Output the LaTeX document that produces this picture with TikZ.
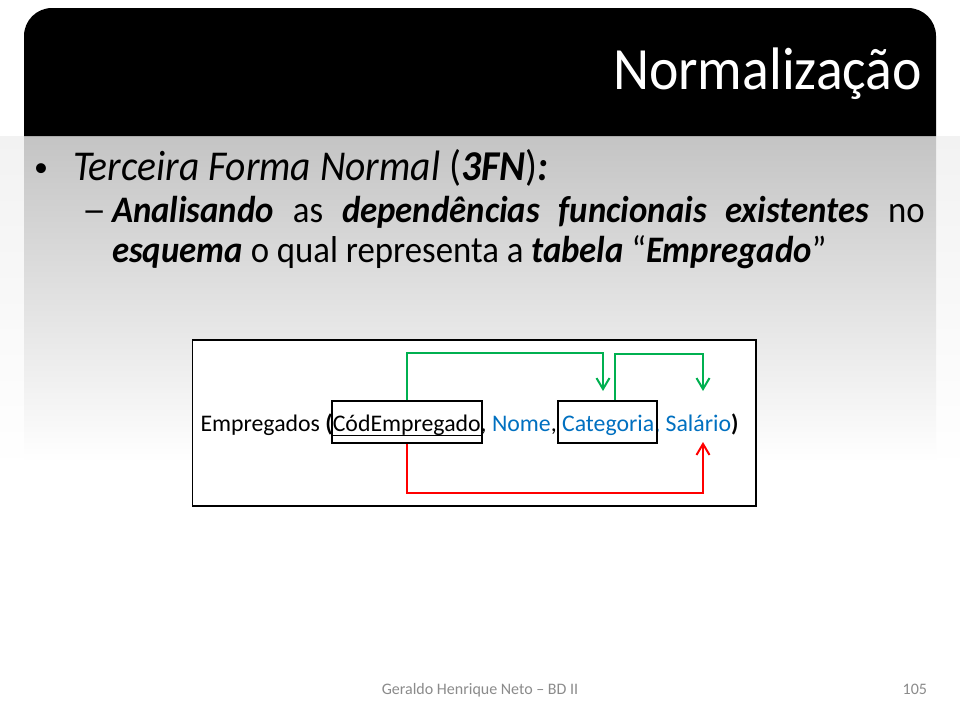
\documentclass[tikz,border=0pt]{standalone}
\usepackage{fontspec}
\usepackage{graphicx}
\setmainfont{Carlito}
\usetikzlibrary{arrows.meta,calc}

\definecolor{fieldblue}{HTML}{0070C0}
\definecolor{fdgreen}{HTML}{00B050}
\definecolor{fdred}{HTML}{FF0000}
\definecolor{bandtop}{HTML}{C4C4C4}
\definecolor{pagetop}{HTML}{F2F2F2}
\definecolor{footgray}{HTML}{8B8B8B}

\newcommand{\bi}[1]{\textbf{\textit{#1}}}
% slide text is set slightly condensed
\newcommand{\cond}[1]{\scalebox{0.93}[1]{#1}}

\tikzset{
  lbl/.style={inner sep=0pt, outer sep=0pt, anchor=base west},
  dtext/.style={lbl, font=\fontsize{23.8}{28}\selectfont},
  subtext/.style={lbl, font=\fontsize{37.4}{40}\selectfont},
  keybox/.style={draw=black, line width=2pt, inner sep=0pt, minimum height=42pt},
  fdarrow/.style={line width=2pt, -{Straight Barb[length=11pt,width=13pt,line width=2pt]}},
}

\begin{document}
\begin{tikzpicture}[x=1pt,y=-1pt]
  \useasboundingbox (0,0) rectangle (960,720);
  \fill[white] (0,0) rectangle (960,720);

  % background shading under the title bar
  \shade[top color=pagetop, bottom color=white] (0,136) rectangle (960,470);
  \shade[top color=bandtop, bottom color=white] (24,136) rectangle (936,462);

  % title bar with rounded upper corners
  \fill[black] (24,136) [rounded corners=28pt] -- (24,8) -- (936,8) [sharp corners] -- (936,136) -- cycle;
  \node[lbl, anchor=base east, text=white, font=\fontsize{60}{64}\selectfont] (title) at (922,89) {\cond{Normalização}};

  % bullet text
  \node[lbl, anchor=base, font=\fontsize{28}{32}\selectfont] (bullet) at (41,176) {•};
  \node[lbl, font=\fontsize{42.5}{48}\selectfont] (item) at (73,180)
    {\cond{\textit{Terceira Forma Normal }(\bi{3FN})\bi{:}}};
  \node[subtext] (dash) at (82,222) {\scalebox{1.3}[1]{–}};
  \node[subtext] (sub1) at (112,222)
    {\cond{\makebox[874pt][s]{\bi{Analisando} as \bi{dependências funcionais existentes} no}}};
  \node[subtext] (sub2) at (112,262)
    {\cond{\bi{esquema} o qual representa a \bi{tabela} “\bi{Empregado}”}};

  % schema frame
  \draw[black, line width=1.3pt, fill=white] (192.5,340) rectangle (756,506);

  % schema text
  \node[dtext] (ent) at (200.5,431) {Empregados \textbf{(}};
  \node[dtext] (kname) at (ent.base east) {CódEmpregado};
  \node[dtext] (nome) at (kname.base east) {,\ \textcolor{fieldblue}{Nome},\ \mbox{}};
  \node[dtext, text=fieldblue] (cat) at (nome.base east) {Categoria};
  \node[dtext, text=fieldblue] (sal) at (cat.base east) {,\ Salário};
  \node[dtext] (close) at (sal.base east) {\textbf{)}};
  \draw[black, line width=1pt] ($(kname.base west)+(0,4)$) -- ($(kname.base east)+(0,4)$);

  % determinant boxes
  \node[keybox, minimum width=150pt] (kbox) at (407,422) {};
  \node[keybox, minimum width=99pt] (cbox) at (607.5,422) {};

  % arrow end points
  \coordinate (cattip) at (603,391);
  \coordinate (saltop) at (703,391);
  \coordinate (salbot) at (703,442);

  % functional dependencies
  \draw[fdarrow, fdgreen] (kbox.north) -- ++(0,-47) -| (cattip);
  \draw[fdarrow, fdgreen] ($(cbox.north)+(7.5,0)$) -- ++(0,-46) -| (saltop);
  \draw[fdarrow, fdred] (kbox.south) -- ++(0,49) -| (salbot);

  % footer
  \node[lbl, anchor=base, text=footgray, font=\fontsize{16}{18}\selectfont] (foot) at (480,694) {Geraldo Henrique Neto – BD II};
  \node[lbl, anchor=base east, text=footgray, font=\fontsize{16}{18}\selectfont] (page) at (927,694) {105};
\end{tikzpicture}
\end{document}
